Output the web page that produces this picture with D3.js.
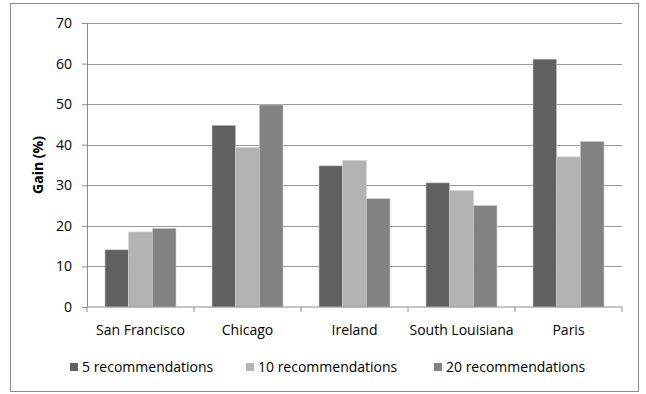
<!DOCTYPE html>
<html>
<head>
<meta charset="utf-8">
<script src="https://cdn.jsdelivr.net/npm/d3@7"></script>
<style>
  html, body { margin: 0; padding: 0; background: #fff; }
  svg { display: block; font-family: "Open Sans", "Noto Sans", sans-serif; }
</style>
</head>
<body>
<svg id="chart" width="646" height="394"></svg>
<script>
// Gain per city for each recommendation list size
const cities = ["San Francisco", "Chicago", "Ireland", "South Louisiana", "Paris"];
const seriesNames = ["5 recommendations", "10 recommendations", "20 recommendations"];
const rec5 = [14.1, 44.8, 34.8, 30.6, 61.1];
const rec10 = [18.5, 39.3, 36.1, 28.7, 37.0];
const rec20 = [19.4, 49.8, 26.7, 25.0, 40.8];
const yTicks = [0, 10, 20, 30, 40, 50, 60, 70];
const colors = ["#606060", "#b3b3b3", "#828282"];

const seriesValues = [rec5, rec10, rec20];
const FS = 14;

const svg = d3.select("#chart");
const margin = { left: 87, right: 24, top: 23, bottom: 87 };
const W = 646, H = 394;

// Outer frame
svg.append("rect")
  .attr("x", 10.5).attr("y", 3.5)
  .attr("width", 628).attr("height", 388)
  .attr("fill", "#fff").attr("stroke", "#8c8c8c").attr("stroke-width", 1);

const x0 = d3.scaleBand().domain(cities).range([margin.left, W - margin.right]).padding(0);
const x1 = d3.scaleBand().domain(seriesNames).range([0, x0.bandwidth()]).paddingInner(0).paddingOuter(0.76);
const y = d3.scaleLinear().domain([0, 70]).range([H - margin.bottom, margin.top]);

// Horizontal gridlines
svg.append("g")
  .selectAll("line")
  .data(yTicks.filter(t => t > 0))
  .join("line")
  .attr("x1", margin.left).attr("x2", W - margin.right)
  .attr("y1", d => Math.round(y(d)) + 0.5).attr("y2", d => Math.round(y(d)) + 0.5)
  .attr("stroke", "#999").attr("stroke-width", 1);

// Bars
const groups = svg.append("g")
  .selectAll("g")
  .data(cities)
  .join("g")
  .attr("transform", d => `translate(${x0(d)},0)`);

groups.selectAll("rect")
  .data((c, i) => seriesNames.map((s, k) => ({ s, k, v: seriesValues[k][i] })))
  .join("rect")
  .attr("x", d => x1(d.s))
  .attr("y", d => y(d.v))
  .attr("width", x1.bandwidth())
  .attr("height", d => y(0) - y(d.v))
  .attr("fill", d => colors[d.k])
  .attr("stroke", "#d0d0d0")
  .attr("stroke-width", 0.6);

// Y axis
const yAxis = svg.append("g")
  .attr("transform", `translate(${margin.left},0)`)
  .call(d3.axisLeft(y).tickValues(yTicks).tickSize(5).tickPadding(10).tickFormat(d3.format("d")));
yAxis.select(".domain").attr("stroke", "#8c8c8c");
yAxis.selectAll(".tick line").attr("stroke", "#8c8c8c");
yAxis.selectAll("text").attr("font-size", FS).attr("fill", "#000").attr("font-family", "Open Sans, sans-serif");

// X axis
const xAxis = svg.append("g")
  .attr("transform", `translate(0,${y(0)})`)
  .call(d3.axisBottom(x0).tickSize(0).tickPadding(18));
xAxis.select(".domain").attr("stroke", "#8c8c8c").attr("d", `M${margin.left},5V0H${W - margin.right}V5`);
xAxis.selectAll("text").attr("font-size", FS).attr("fill", "#000").attr("font-family", "Open Sans, sans-serif");
// Category separators below the baseline
svg.append("g")
  .selectAll("line")
  .data(cities.slice(1))
  .join("line")
  .attr("x1", d => x0(d)).attr("x2", d => x0(d))
  .attr("y1", y(0)).attr("y2", y(0) + 5)
  .attr("stroke", "#8c8c8c");

// Axis title
svg.append("text")
  .attr("transform", `translate(43,${(y(0) + y(70)) / 2}) rotate(-90)`)
  .attr("text-anchor", "middle")
  .attr("font-size", FS).attr("font-weight", "bold")
  .text("Gain (%)");

// Legend
const legendX = [70, 246, 434];
const legend = svg.append("g")
  .selectAll("g")
  .data(seriesNames)
  .join("g")
  .attr("transform", (d, i) => `translate(${legendX[i]},363)`);
legend.append("rect")
  .attr("width", 8).attr("height", 8)
  .attr("fill", (d, i) => colors[i]);
legend.append("text")
  .attr("x", 12).attr("y", 9)
  .attr("font-size", FS)
  .text(d => d);
</script>
</body>
</html>
